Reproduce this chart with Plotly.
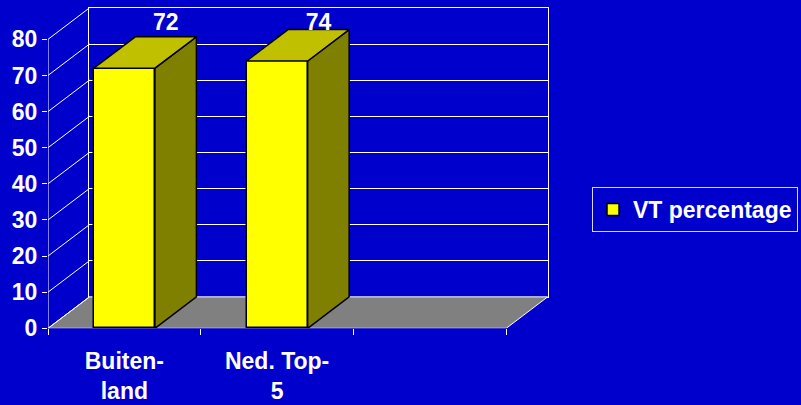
import plotly.graph_objects as go

categories = ["Buiten-<br>land", "Ned. Top-<br>5"]
values = [72, 74]
y_ticks = [0, 10, 20, 30, 40, 50, 60, 70, 80]
series_name = "VT percentage"

W, H = 801, 405
BLUE = "#0000CC"
FONT = "Arial, Liberation Sans, sans-serif"
FS = 23

# 3d depth of the chart, in axis units
DX = 0.2714   # category units
DY = 8.7      # value units
BAR_W = 0.4
N_SLOTS = 3   # third category slot stays empty

# front plane in pixels
left_px, right_px = 48, 547.7
bottom_px, top_px = 328.3, 7.9

x_front = [left_px / W, right_px / W]
y_front = [(H - bottom_px) / H, (H - top_px) / H]
px_per_cat = (right_px - left_px) / (N_SLOTS + DX)
px_per_val = (bottom_px - top_px) / (80 + DY)
x_back = [(left_px + DX * px_per_cat) / W, right_px / W]
y_back = [(H - bottom_px + DY * px_per_val) / H, y_front[1]]

fig = go.Figure()

# empty trace so the back wall subplot gets drawn
fig.add_trace(go.Scatter(x=[], y=[], xaxis="x", yaxis="y", showlegend=False))

# front faces
fig.add_trace(go.Bar(
    x=list(range(len(values))),
    y=values,
    width=BAR_W,
    name=series_name,
    marker=dict(color="#FFFF00", line=dict(color="black", width=1.5)),
    xaxis="x2", yaxis="y2",
))

# side and top faces
for i, v in enumerate(values):
    x0, x1 = i - BAR_W / 2, i + BAR_W / 2
    fig.add_trace(go.Scatter(
        x=[x1, x1 + DX, x1 + DX, x1, x1],
        y=[0, DY, v + DY, v, 0],
        fill="toself", fillcolor="#808000", mode="lines",
        line=dict(color="black", width=1.5),
        showlegend=False, hoverinfo="skip",
        xaxis="x2", yaxis="y2",
    ))
    fig.add_trace(go.Scatter(
        x=[x0, x1, x1 + DX, x0 + DX, x0],
        y=[v, v, v + DY, v + DY, v],
        fill="toself", fillcolor="#C0C000", mode="lines",
        line=dict(color="black", width=1.5),
        showlegend=False, hoverinfo="skip",
        xaxis="x2", yaxis="y2",
    ))

# value labels, all on one level above the tallest bar
label_y = max(values) + DY + 1.6
fig.add_trace(go.Scatter(
    x=[i + DX for i in range(len(values))],
    y=[label_y] * len(values),
    mode="text",
    text=[str(v) for v in values],
    textposition="middle center",
    textfont=dict(family=FONT, size=FS, color="white", weight="bold"),
    cliponaxis=False, showlegend=False, hoverinfo="skip",
    xaxis="x2", yaxis="y2",
))

# floor, front axis line and side wall lines
shapes = [dict(
    type="path", xref="x2", yref="y2", layer="below",
    path=f"M -0.5,0 L {N_SLOTS - 0.5},0 L {N_SLOTS - 0.5 + DX},{DY} L {-0.5 + DX},{DY} Z",
    fillcolor="#808080", line=dict(color="white", width=1),
)]
shapes.append(dict(type="line", xref="x2", yref="y2", x0=-0.5, x1=-0.5, y0=0, y1=80,
                   line=dict(color="white", width=1)))
for t in y_ticks:
    shapes.append(dict(type="line", xref="x2", yref="y2",
                       x0=-0.5, y0=t, x1=-0.5 + DX, y1=t + DY,
                       line=dict(color="white", width=1)))

fig.update_layout(
    width=W, height=H, autosize=False,
    margin=dict(l=0, r=0, t=0, b=0),
    paper_bgcolor=BLUE,
    plot_bgcolor="rgba(0,0,0,0)",
    font=dict(family=FONT, color="white", size=FS),
    shapes=shapes,
    bargap=0,
    # back wall
    xaxis=dict(domain=x_back, range=[0, 1], showgrid=False, zeroline=False,
               showticklabels=False, ticks="", showline=True, mirror=True,
               linecolor="white", linewidth=1, anchor="y", automargin=False),
    yaxis=dict(domain=y_back, range=[0, 80], tickvals=y_ticks, showgrid=True,
               gridcolor="white", gridwidth=1, zeroline=False, showticklabels=False,
               ticks="", showline=True, mirror=True, linecolor="white",
               linewidth=1, anchor="x", automargin=False),
    # front plane
    xaxis2=dict(domain=x_front, range=[-0.5, N_SLOTS - 0.5 + DX],
                tickvals=list(range(len(categories))), ticktext=categories,
                ticks="", showgrid=False, zeroline=False, showline=False,
                ticklabelstandoff=17, automargin=False,
                tickfont=dict(family=FONT, size=FS, color="white", weight="bold"),
                minor=dict(tickmode="array",
                           tickvals=[k - 0.5 for k in range(N_SLOTS + 1)],
                           ticks="outside", ticklen=6, tickcolor="white",
                           tickwidth=1, showgrid=False),
                anchor="y2"),
    yaxis2=dict(domain=y_front, range=[0, 80 + DY], tickvals=y_ticks,
                ticks="outside", ticklen=5, tickcolor="white", tickwidth=1,
                showgrid=False, zeroline=False, showline=False, automargin=False,
                tickfont=dict(family=FONT, size=FS, color="white", weight="bold"),
                anchor="x2"),
    showlegend=True,
    legend=dict(x=592 / W, y=1 - 187 / H, xanchor="left", yanchor="top",
                bgcolor=BLUE, bordercolor="#D8D8FF", borderwidth=1,
                font=dict(family=FONT, size=FS, color="white", weight="bold")),
)

fig.write_html(
    "out.html",
    config={"displayModeBar": False, "responsive": False},
    default_width=f"{W}px",
    default_height=f"{H}px",
    post_script="document.body.style.margin='0';",
)
